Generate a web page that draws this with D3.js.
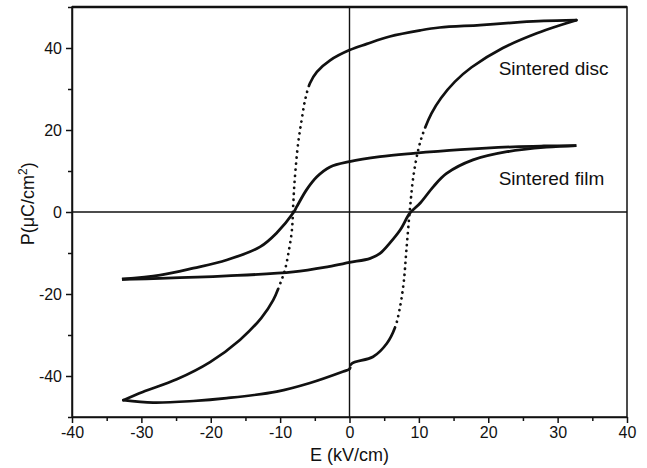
<!DOCTYPE html>
<html>
<head>
<meta charset="utf-8">
<script src="https://cdn.jsdelivr.net/npm/d3@7"></script>
<style>
  body { margin: 0; background: #fff; }
  text { font-family: "Liberation Sans", Arial, sans-serif; fill: #111; }
</style>
</head>
<body>
<script>
// P-E hysteresis loops, [E (kV/cm), P (uC/cm2)]
let discUpper = [
  [32.7, 46.8], [28, 46.6], [24.6, 46.3], [18.8, 45.6], [13, 45], [10.2, 44.3],
  [5.8, 42.8], [2.5, 41], [0, 39.5], [-2.8, 37], [-4.7, 34.2], [-5.7, 31.4],
  [-6.4, 27.3], [-6.9, 22.4], [-7.4, 16.8], [-7.9, 7.8], [-8.1, 2.2], [-8.3, -4.4],
  [-8.8, -10], [-9.3, -14.1], [-9.8, -16.6], [-11, -21.5], [-12.7, -25.8],
  [-15.8, -31.2], [-20.1, -36.6], [-24.9, -40.8], [-29.8, -43.9], [-32.6, -45.9],
];
let discLower = [
  [-32.6, -45.9], [-28.3, -46.5], [-22.5, -46.1], [-17.7, -45.4], [-10.5, -43.8],
  [-5.7, -41.7], [-0.9, -38.9], [0, -38.3], [0.3, -37], [3.4, -35.3], [5.4, -32],
  [6.6, -28], [7.2, -23.9], [7.8, -17.4], [8.2, -9.3], [8.7, 0.5], [9.2, 8.6],
  [9.9, 15.1], [10.6, 19.2], [11.8, 24], [13.2, 27.8], [15.2, 31.8], [17.6, 35.3],
  [22.1, 40], [27, 43.6], [30.8, 45.8], [32.7, 46.8],
];
let filmUpper = [
  [32.7, 16.2], [28, 16.1], [23.6, 15.9], [16, 15.2], [9.2, 14.3], [4.4, 13.5],
  [0, 12.3], [-2.8, 11], [-4.7, 8.6], [-6.2, 5.4], [-7.6, 1.3], [-8.1, -0.2],
  [-10.5, -5.1], [-12.9, -8.5], [-17.7, -11.7], [-22.5, -13.7], [-27.3, -15.4],
  [-32.8, -16.4],
];
let filmLower = [
  [-32.8, -16.4], [-27.3, -16.2], [-17.7, -15.6], [-8.1, -14.6], [-3, -13.3],
  [0, -12.3], [3, -11.3], [4.4, -10.1], [5.8, -7.6], [7.3, -4.4], [8.7, -0.3],
  [10.2, 2.2], [12.1, 6.2], [14, 9.4], [17.8, 12.7], [22.7, 14.7], [28.4, 15.8],
  [32.7, 16.2],
];
let xMajor = [-40, -30, -20, -10, 0, 10, 20, 30, 40];
let xMinor = [-35, -25, -15, -5, 5, 15, 25, 35];
let yMajor = [-40, -20, 0, 20, 40];
let yMinor = [-50, -30, -10, 10, 30, 50];
let labels = [
  { text: "Sintered disc", E: 21.5, P: 33.5 },
  { text: "Sintered film", E: 21.5, P: 6.5 },
];

let width = 647;
let height = 468;
let margin = { top: 7, right: 20, bottom: 51, left: 72 };

let xScale = d3.scaleLinear().domain([-40, 40]).range([margin.left, width - margin.right]);
let yScale = d3.scaleLinear().domain([-50, 50]).range([height - margin.bottom, margin.top]);

let svg = d3.select("body").append("svg").attr("width", width).attr("height", height);

// zero lines
svg.append("line")
  .attr("x1", xScale(-40)).attr("x2", xScale(40))
  .attr("y1", yScale(0)).attr("y2", yScale(0))
  .attr("stroke", "#111").attr("stroke-width", 1.4);
svg.append("line")
  .attr("x1", xScale(0)).attr("x2", xScale(0))
  .attr("y1", yScale(-50)).attr("y2", yScale(50))
  .attr("stroke", "#111").attr("stroke-width", 1.4);

// frame
svg.append("rect")
  .attr("x", xScale(-40)).attr("y", yScale(50))
  .attr("width", xScale(40) - xScale(-40)).attr("height", yScale(-50) - yScale(50))
  .attr("fill", "none").attr("stroke", "#111").attr("stroke-width", 1.5);
svg.append("line")
  .attr("x1", xScale(-40)).attr("x2", xScale(40))
  .attr("y1", yScale(50)).attr("y2", yScale(50))
  .attr("stroke", "#111").attr("stroke-width", 2.5);

// axes (plain hyphen minus, as in the original)
let fmt = (d) => String(d);
svg.append("g")
  .attr("transform", `translate(0,${yScale(-50)})`)
  .call(d3.axisBottom(xScale).tickValues(xMajor).tickFormat(fmt).tickSize(6).tickSizeOuter(0).tickPadding(4));
svg.append("g")
  .attr("transform", `translate(0,${yScale(-50)})`)
  .call(d3.axisBottom(xScale).tickValues(xMinor).tickSize(4).tickFormat(""))
  .call((g) => g.select(".domain").remove());
svg.append("g")
  .attr("transform", `translate(${xScale(-40)},0)`)
  .call(d3.axisLeft(yScale).tickValues(yMajor).tickFormat(fmt).tickSize(6).tickSizeOuter(0).tickPadding(4));
svg.append("g")
  .attr("transform", `translate(${xScale(-40)},0)`)
  .call(d3.axisLeft(yScale).tickValues(yMinor).tickSize(4).tickFormat(""))
  .call((g) => g.select(".domain").remove());

svg.selectAll(".tick line").attr("stroke", "#111").attr("stroke-width", 1.5);
svg.selectAll(".domain").attr("stroke", "#111").attr("stroke-width", 1.5);
svg.selectAll(".tick text")
  .attr("font-size", 16)
  .attr("font-family", "Liberation Sans, Arial, sans-serif")
  .attr("fill", "#111");

// axis titles
svg.append("text")
  .attr("x", xScale(0)).attr("y", 461)
  .attr("text-anchor", "middle")
  .attr("font-size", 18)
  .text("E (kV/cm)");
let yt = svg.append("text")
  .attr("transform", `translate(34,${yScale(2)}) rotate(-90)`)
  .attr("text-anchor", "middle")
  .attr("font-size", 18);
yt.append("tspan").text("P(\u03bcC/cm");
yt.append("tspan").attr("font-size", 12).attr("dy", -7).text("2");
yt.append("tspan").attr("dy", 7).text(")");

// loops
let line = d3.line()
  .x((d) => xScale(d[0]))
  .y((d) => yScale(d[1]))
  .curve(d3.curveCatmullRom.alpha(0.5));

// disc: one smooth path per branch; the fast-switching (steep) stretches
// are shown as sparse dots like the sampled measurement
let dotDash = (node) => {
  let total = node.getTotalLength();
  let step = 1;
  let runs = [];
  for (let l = 0; l < total; l += step) {
    let a = node.getPointAtLength(Math.max(0, l - 2));
    let b = node.getPointAtLength(Math.min(total, l + 2));
    let steep = Math.abs(b.y - a.y) > 2.6 * Math.abs(b.x - a.x);
    let last = runs[runs.length - 1];
    if (last && last.steep === steep) last.len += step;
    else runs.push({ steep: steep, len: step });
  }
  let dash = [];
  runs.forEach((r) => {
    if (!r.steep) {
      dash.push(r.len, 0);
    } else {
      let n = Math.max(1, Math.round(r.len / 6));
      let gap = r.len / n - 0.1;
      for (let i = 0; i < n; i++) dash.push(0.1, gap);
    }
  });
  return dash.join(" ");
};

[discUpper, discLower].forEach((branch) => {
  let p = svg.append("path")
    .attr("d", line(branch))
    .attr("fill", "none")
    .attr("stroke", "#111")
    .attr("stroke-width", 2.7)
    .attr("stroke-linecap", "round");
  p.attr("stroke-dasharray", dotDash(p.node()));
});

[filmUpper, filmLower].forEach((branch) => {
  svg.append("path")
    .attr("d", line(branch))
    .attr("fill", "none")
    .attr("stroke", "#111")
    .attr("stroke-width", 2.8)
    .attr("stroke-linejoin", "round");
});

svg.selectAll(".lbl")
  .data(labels)
  .enter()
  .append("text")
  .attr("class", "lbl")
  .attr("x", (d) => xScale(d.E))
  .attr("y", (d) => yScale(d.P))
  .attr("font-size", 19)
  .text((d) => d.text);
</script>
</body>
</html>
